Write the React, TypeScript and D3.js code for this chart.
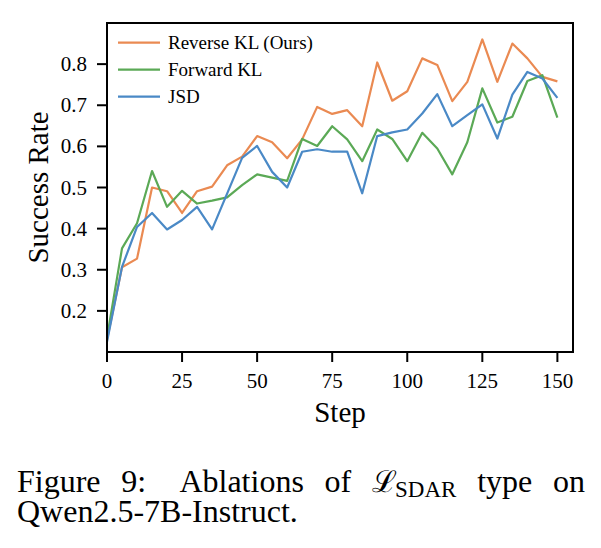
import React, { useEffect, useRef } from 'react';
import * as d3 from 'd3';

const steps = [0, 5, 10, 15, 20, 25, 30, 35, 40, 45, 50, 55, 60, 65, 70, 75, 80, 85, 90, 95, 100, 105, 110, 115, 120, 125, 130, 135, 140, 145, 150];

const reverseKL = [0.13, 0.306, 0.327, 0.5, 0.491, 0.438, 0.491, 0.502, 0.554, 0.575, 0.625, 0.61, 0.571, 0.617, 0.696, 0.679, 0.688, 0.649, 0.804, 0.711, 0.734, 0.814, 0.798, 0.71, 0.757, 0.86, 0.757, 0.85, 0.814, 0.769, 0.758];
const forwardKL = [0.135, 0.352, 0.413, 0.54, 0.453, 0.492, 0.461, 0.468, 0.476, 0.506, 0.532, 0.524, 0.516, 0.618, 0.601, 0.649, 0.617, 0.564, 0.641, 0.618, 0.564, 0.633, 0.595, 0.532, 0.61, 0.741, 0.658, 0.672, 0.759, 0.773, 0.67];
const jsd = [0.125, 0.307, 0.404, 0.438, 0.398, 0.421, 0.453, 0.398, 0.485, 0.572, 0.601, 0.538, 0.5, 0.587, 0.593, 0.587, 0.587, 0.486, 0.625, 0.634, 0.641, 0.68, 0.727, 0.649, 0.676, 0.702, 0.619, 0.726, 0.781, 0.765, 0.718];

const seriesNames = ['Reverse KL (Ours)', 'Forward KL', 'JSD'];
const seriesColors = ['#ea8a52', '#5ba956', '#4a89c6'];
const xTicks = [0, 25, 50, 75, 100, 125, 150];
const yTicks = [0.2, 0.3, 0.4, 0.5, 0.6, 0.7, 0.8];

const W = 601;
const H = 548;
const FONT = '"Liberation Serif", "Times New Roman", serif';

const App = () => {
  const rootRef = useRef<SVGSVGElement>(null);

  useEffect(() => {
    const svg = d3.select(rootRef.current);
    svg.selectAll('*').remove();

    const left = 107, right = 573, top = 23, bottom = 352;
    const x = d3.scaleLinear().domain([0, 155.2]).range([left, right]);
    const y = d3.scaleLinear().domain([0.1, 0.9]).range([bottom, top]);

    const g = svg.append('g').attr('font-family', FONT);

    // lines
    const line = d3.line<number>()
      .x((_, i) => x(steps[i]))
      .y((d) => y(d));
    [reverseKL, forwardKL, jsd].forEach((vals, k) => {
      g.append('path')
        .datum(vals)
        .attr('d', line)
        .attr('fill', 'none')
        .attr('stroke', seriesColors[k])
        .attr('stroke-width', 2.2)
        .attr('stroke-linejoin', 'round');
    });

    // frame
    g.append('rect')
      .attr('x', left).attr('y', top)
      .attr('width', right - left).attr('height', bottom - top)
      .attr('fill', 'none').attr('stroke', '#000').attr('stroke-width', 2);

    // x axis ticks
    xTicks.forEach((t) => {
      g.append('line')
        .attr('x1', x(t)).attr('x2', x(t))
        .attr('y1', bottom).attr('y2', bottom + 10)
        .attr('stroke', '#000').attr('stroke-width', 2);
      g.append('text')
        .attr('x', x(t)).attr('y', bottom + 36)
        .attr('text-anchor', 'middle')
        .attr('font-size', 21)
        .text(t);
    });

    // y axis ticks
    yTicks.forEach((t) => {
      g.append('line')
        .attr('x1', left - 10).attr('x2', left)
        .attr('y1', y(t)).attr('y2', y(t))
        .attr('stroke', '#000').attr('stroke-width', 2);
      g.append('text')
        .attr('x', left - 20).attr('y', y(t) + 7)
        .attr('text-anchor', 'end')
        .attr('font-size', 21)
        .text(d3.format('.1f')(t));
    });

    // axis labels
    g.append('text')
      .attr('x', (left + right) / 2).attr('y', 422)
      .attr('text-anchor', 'middle')
      .attr('font-size', 29)
      .text('Step');
    g.append('text')
      .attr('transform', `translate(48,${(top + bottom) / 2}) rotate(-90)`)
      .attr('text-anchor', 'middle')
      .attr('font-size', 29)
      .text('Success Rate');

    // legend
    seriesNames.forEach((name, k) => {
      const cy = 42.7 + k * 27;
      g.append('line')
        .attr('x1', 118).attr('x2', 160)
        .attr('y1', cy).attr('y2', cy)
        .attr('stroke', seriesColors[k]).attr('stroke-width', 2.2);
      g.append('text')
        .attr('x', 168).attr('y', cy + 6.5)
        .attr('font-size', 19)
        .text(name);
    });

    // caption: one text block, first line justified between 17 and 585
    const capLeft = 17, capRight = 585, base1 = 492, base2 = 522;
    const cap = g.append('text').attr('font-size', 32);
    type Part = { text: string; dx: number; dy: number; size?: number; family?: string };
    const words: Part[][] = [
      [{ text: 'Figure', dx: 0, dy: 0 }],
      [{ text: '9:', dx: 0, dy: 0 }],
      [{ text: 'Ablations', dx: 0, dy: 0 }],
      [{ text: 'of', dx: 0, dy: 0 }],
      [
        { text: '\u2112', dx: 0, dy: 0, size: 30, family: '"DejaVu Serif", serif' },
        { text: 'SDAR', dx: 23, dy: 5, size: 23 },
      ],
      [{ text: 'type', dx: 0, dy: 0 }],
      [{ text: 'on', dx: 0, dy: 0 }],
    ];
    const nodes = words.map((parts) =>
      parts.map((p) => {
        const t = cap.append('tspan').attr('x', 0).attr('y', base1 + p.dy).text(p.text);
        if (p.size) t.attr('font-size', p.size);
        if (p.family) t.attr('font-family', p.family);
        return t;
      })
    );
    const widths = nodes.map((parts, i) =>
      d3.max(parts, (t, j) => words[i][j].dx + (t.node() as SVGTSpanElement).getComputedTextLength()) as number
    );
    // wider space after the colon
    const gapWeights = [1, 1.6, 1, 1, 1, 1];
    const unit = (capRight - capLeft - d3.sum(widths)) / d3.sum(gapWeights);
    let cx = capLeft;
    nodes.forEach((parts, i) => {
      parts.forEach((t, j) => t.attr('x', cx + words[i][j].dx));
      cx += widths[i] + (i < gapWeights.length ? gapWeights[i] * unit : 0);
    });
    cap.append('tspan').attr('x', capLeft).attr('y', base2).text('Qwen2.5-7B-Instruct.');
  }, []);

  return (
    <svg
      ref={rootRef}
      width={W}
      height={H}
      style={{ position: 'absolute', left: 0, top: 0, background: '#fff' }}
    ></svg>
  );
};

export default App;
